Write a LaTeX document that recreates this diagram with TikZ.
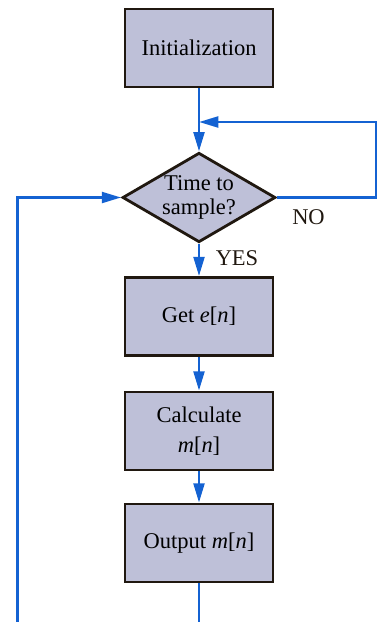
\documentclass[tikz,border=0pt]{standalone}
\usepackage{fontspec}
\setmainfont{Liberation Serif}
\usetikzlibrary{shapes.geometric,arrows.meta}
\definecolor{boxfill}{RGB}{190,192,216}
\definecolor{boxline}{RGB}{32,24,16}
\definecolor{flowblue}{RGB}{20,98,210}
\begin{document}
\begin{tikzpicture}[
  stepbox/.style={draw=boxline, line width=1.6pt, fill=boxfill, minimum width=2.96cm, minimum height=1.56cm, align=center, font=\fontsize{12.8}{17}\selectfont},
  decision/.style={diamond, draw=boxline, line width=1.6pt, fill=boxfill, minimum width=3.06cm, minimum height=1.76cm, inner sep=-4pt, align=center, font=\fontsize{12.8}{13.8}\selectfont},
  flowline/.style={draw=flowblue, line width=1.5pt},
  flow/.style={flowline, -{Triangle[length=11pt,width=6.2pt]}},
  answer/.style={font=\fontsize{12.8}{15.5}\selectfont, text=boxline},
]
  \useasboundingbox (0,0) rectangle (7.54,-12.44);

  % boxes down the middle
  \node[stepbox] (init) at (3.98,-0.96) {Initialization};
  \node[decision] (test) at (3.98,-3.95) {Time to\\sample?};
  \node[stepbox] (get) at (3.98,-6.33) {Get \textit{e}[\textit{n}]};
  \node[stepbox] (calc) at (3.98,-8.62) {Calculate\\\textit{m}[\textit{n}]};
  \node[stepbox] (out) at (3.98,-10.86) {Output \textit{m}[\textit{n}]};

  % answers
  \node[answer] (no) at (6.17,-4.35) {NO};
  \node[answer] (yes) at (4.74,-5.16) {YES};

  % loop ends
  \coordinate (merge) at (3.98,-2.44);
  \coordinate (noturn) at (7.52,-2.44);
  \coordinate (back) at (0.35,-12.44);
  \coordinate (exit) at (3.98,-12.44);

  \draw[flow] (init) -- (test);
  \draw[flow] (test.east) -| (noturn) -- (merge);
  \draw[flow] (test) -- (get);
  \draw[flow] (get) -- (calc);
  \draw[flow] (calc) -- (out);
  \draw[flowline] (out) -- (exit);
  \draw[flow] (back) |- (test.west);
\end{tikzpicture}
\end{document}
